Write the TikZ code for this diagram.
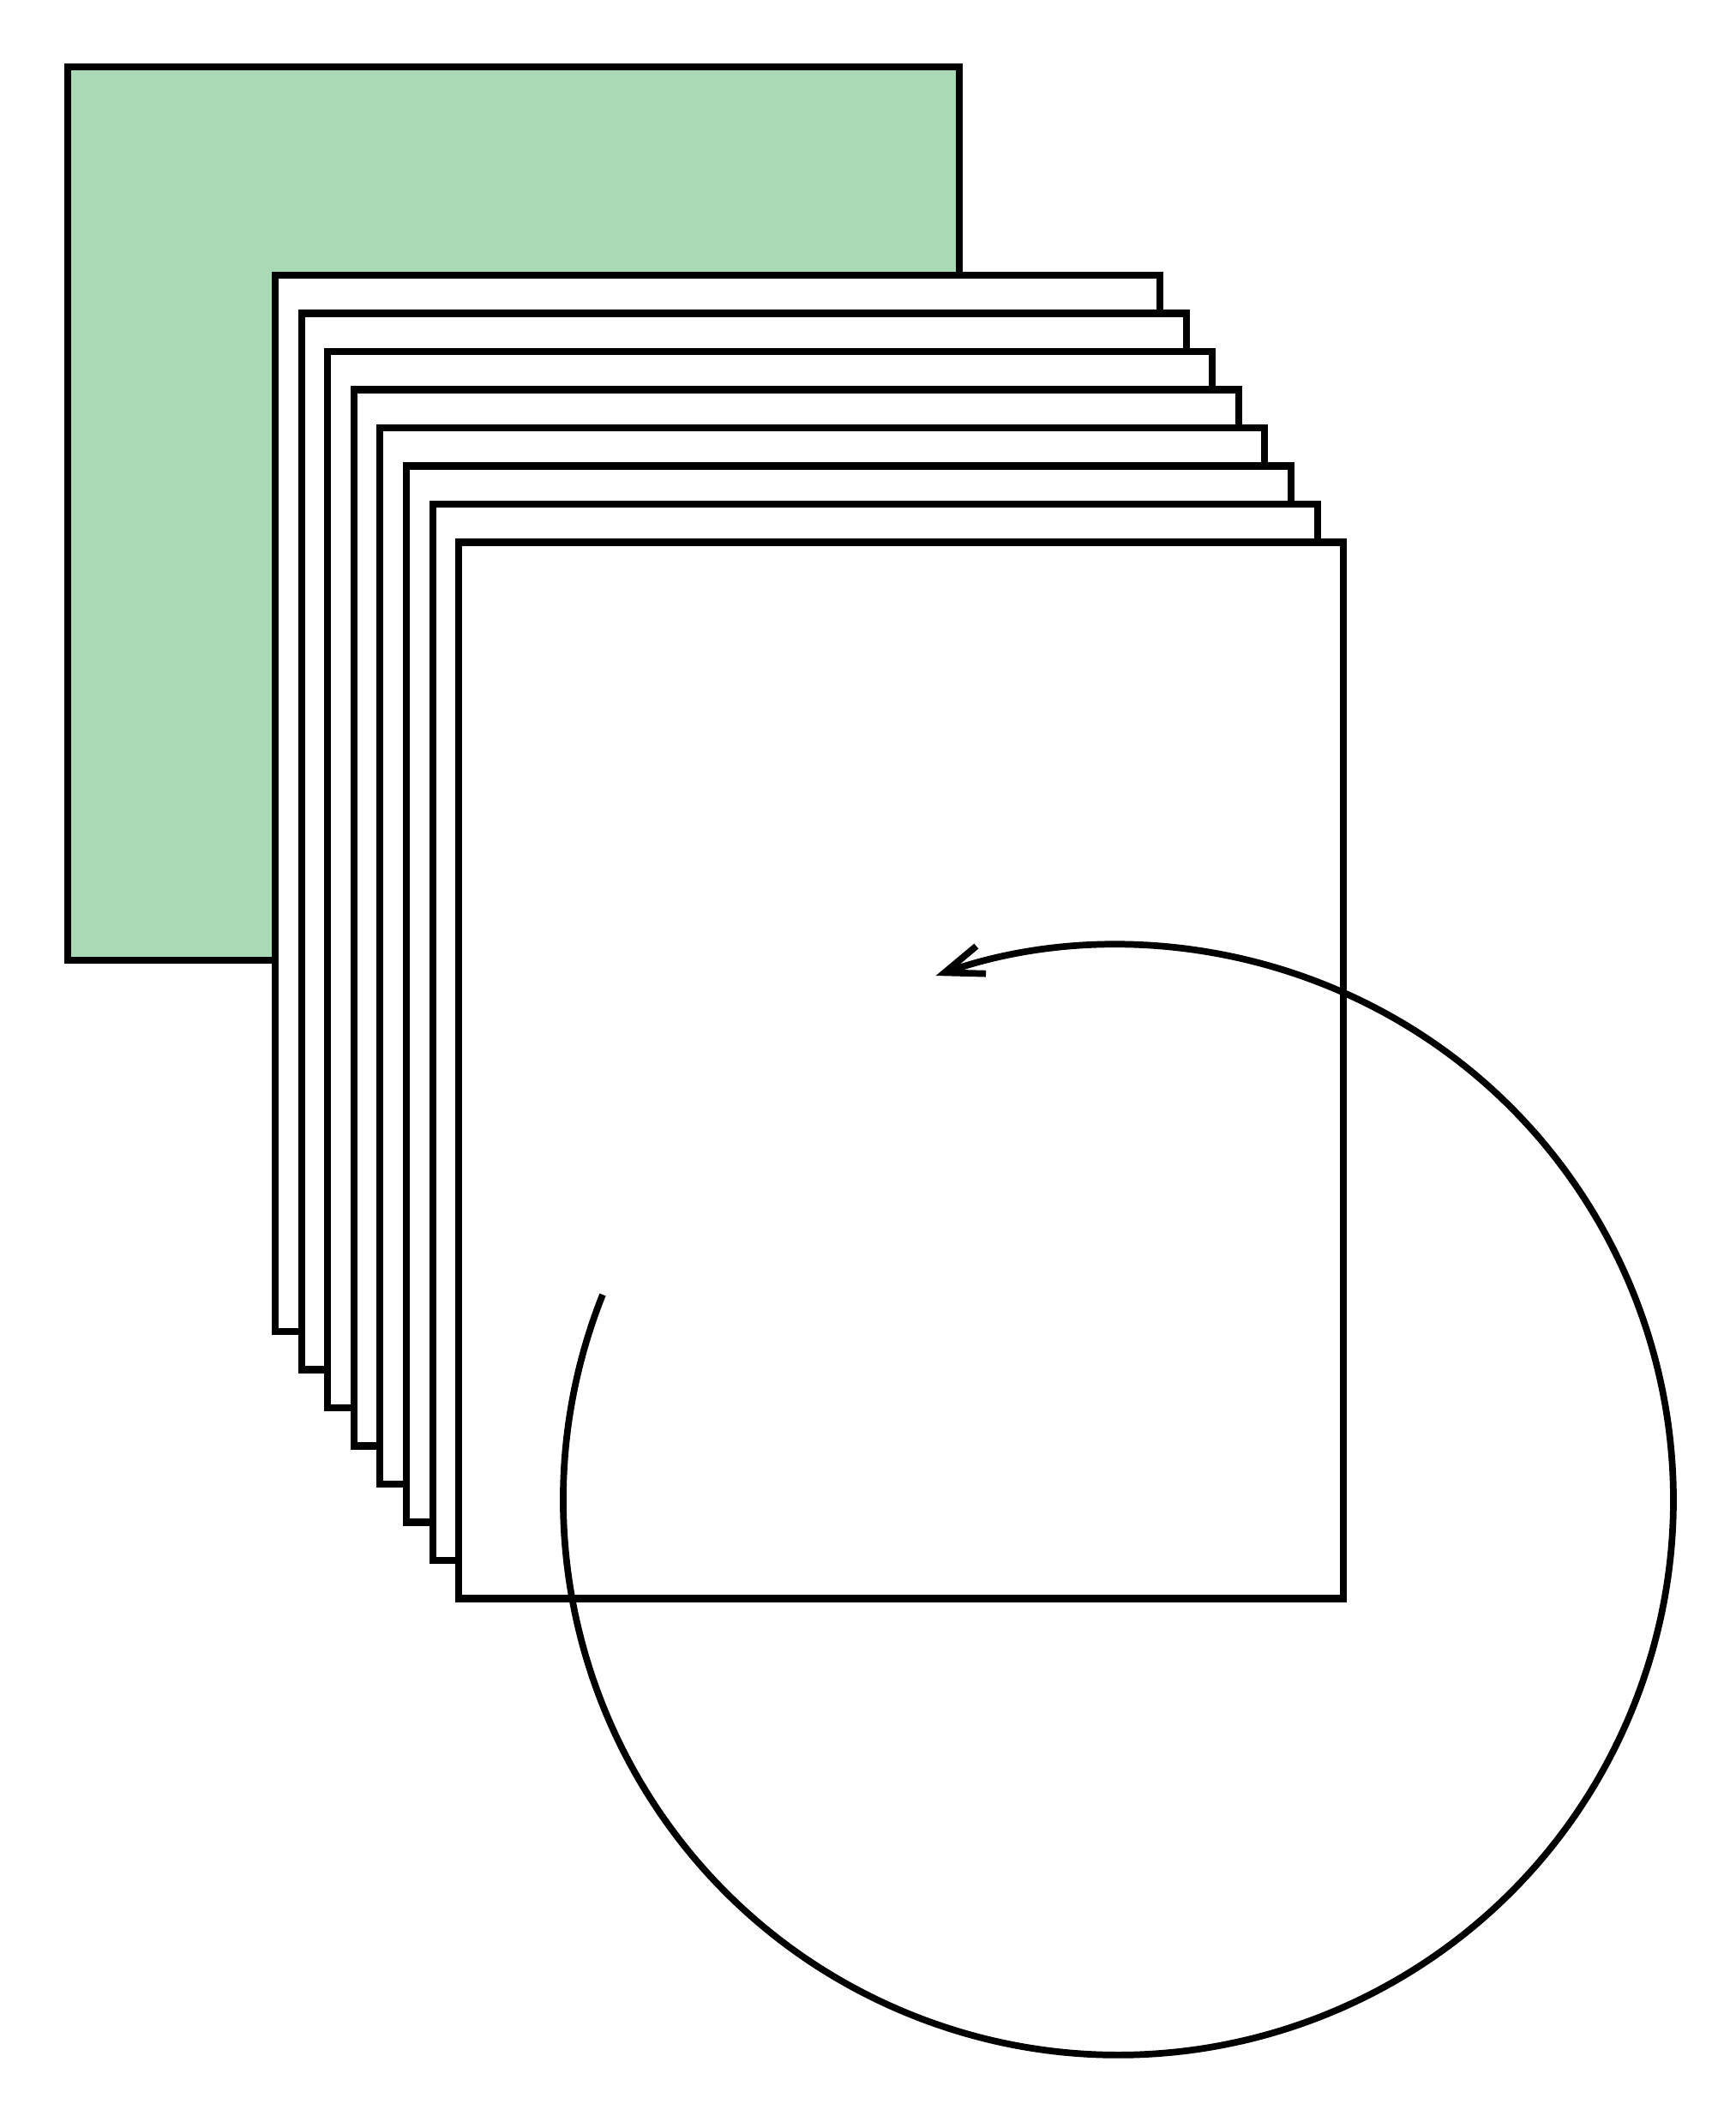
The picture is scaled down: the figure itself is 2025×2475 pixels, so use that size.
\documentclass[tikz,border=0pt]{standalone}
\usetikzlibrary{arrows.meta}
\definecolor{sheetgreen}{RGB}{170,218,181}
\begin{document}
\begin{tikzpicture}[x=0.01cm,y=-0.01cm,
  outline/.style={draw=black,line width=2.3pt},
  sheet/.style={outline,fill=white},
  loop/.style={draw=black,line width=2.2pt,-{Straight Barb[length=0.45cm,width=0.34cm,line width=2.2pt]}}]
\useasboundingbox (0,0) rectangle (2025,2475);
\draw[outline,fill=sheetgreen] (79,78) rectangle (1119,1120);
\foreach \k in {0,...,7}{
  \draw[sheet] ({321+30.6*\k},{321+44.5*\k}) rectangle ({1353+30.6*\k},{1553+44.5*\k});
}
\coordinate (start) at (703,1510);
\draw[loop] (start) arc[start angle=158.3,end angle=469.2,radius=6.47cm];
\end{tikzpicture}
\end{document}
